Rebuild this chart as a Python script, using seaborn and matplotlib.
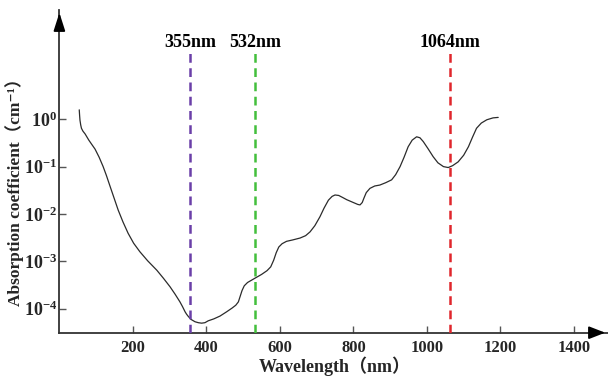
import numpy as np
import pandas as pd
import matplotlib
matplotlib.use("Agg")
import matplotlib.pyplot as plt
import seaborn as sns

# ---- data ----
wavelength_nm = [54, 55, 56, 58, 60, 64, 70, 80, 88, 97, 108, 119, 128, 138, 149,
                 160, 173, 187, 202, 219, 240, 265, 283, 301, 315, 328, 335, 342,
                 346, 351, 358, 369, 378, 387, 396, 405, 420, 437, 455, 470, 480,
                 487, 492, 497, 503, 512, 532, 550, 565, 575, 583, 590, 597, 606,
                 618, 635, 655, 670, 682, 695, 709, 720, 732, 742, 750, 760, 770,
                 782, 800, 812, 818, 824, 829, 835, 845, 858, 872, 888, 904, 915,
                 927, 938, 949, 960, 972, 981, 990, 1003, 1017, 1030, 1045, 1058,
                 1070, 1085, 1100, 1113, 1124, 1135, 1148, 1163, 1180, 1194]
log10_absorption = [0.20, 0.08, -0.02, -0.12, -0.19, -0.25, -0.31, -0.44, -0.53,
                    -0.63, -0.80, -1.00, -1.19, -1.42, -1.67, -1.92, -2.17, -2.41,
                    -2.62, -2.80, -2.99, -3.19, -3.36, -3.54, -3.70, -3.86, -3.96,
                    -4.07, -4.12, -4.17, -4.23, -4.28, -4.30, -4.31, -4.30, -4.26,
                    -4.22, -4.16, -4.07, -3.99, -3.93, -3.86, -3.74, -3.62, -3.52,
                    -3.45, -3.36, -3.28, -3.20, -3.12, -2.98, -2.82, -2.70, -2.63,
                    -2.58, -2.55, -2.51, -2.46, -2.38, -2.25, -2.06, -1.88, -1.71,
                    -1.63, -1.60, -1.61, -1.65, -1.70, -1.76, -1.80, -1.81, -1.76,
                    -1.66, -1.55, -1.46, -1.41, -1.39, -1.34, -1.28, -1.17, -1.00,
                    -0.80, -0.58, -0.44, -0.37, -0.39, -0.47, -0.62, -0.79, -0.92,
                    -1.00, -1.02, -0.98, -0.90, -0.76, -0.58, -0.38, -0.19, -0.08,
                    -0.01, 0.03, 0.04]
laser_lines = [355, 532, 1064]
laser_labels = ["355nm", "532nm", "1064nm"]
laser_colors = ["#6a3fa8", "#43bf3c", "#e0262c"]
x_ticks = [200, 400, 600, 800, 1000, 1200, 1400]
y_exponents = [0, -1, -2, -3, -4]

df = pd.DataFrame({"wavelength": wavelength_nm,
                   "absorption": np.power(10.0, log10_absorption)})

sns.set_style("ticks")
FAM = ["Liberation Serif", "Noto Sans CJK SC", "DejaVu Sans"]
plt.rcParams["font.family"] = FAM
plt.rcParams["font.weight"] = "bold"
plt.rcParams["mathtext.fontset"] = "custom"
plt.rcParams["mathtext.rm"] = "Liberation Serif:bold"
plt.rcParams["mathtext.bf"] = "Liberation Serif:bold"
plt.rcParams["mathtext.it"] = "Liberation Serif:bold:italic"

W, H = 608, 376
fig = plt.figure(figsize=(W / 100, H / 100), dpi=100)
x0, ybot, x1, ytop = 59.4, 332.7, 608.0, 10.0
ax = fig.add_axes([x0 / W, (H - ybot) / H, (x1 - x0) / W, (ybot - ytop) / H])

px_per_unit = 0.3675
ax.set_xlim(0, (x1 - x0) / px_per_unit)
dec = 47.3
ax.set_yscale("log")
lo = -4 - (ybot - 308.5) / dec
ax.set_ylim(10 ** lo, 10 ** (lo + (ybot - ytop) / dec))

sns.lineplot(data=df, x="wavelength", y="absorption", ax=ax, color="#2b2b2b",
             linewidth=0.9, estimator=None, sort=False)

ymin = ax.get_ylim()[0]
for wl, lab, col in zip(laser_lines, laser_labels, laser_colors):
    ax.vlines(wl, ymin, 10 ** 1.42, colors=col, linewidth=1.8,
              linestyles=(0, (3.5, 2.2)), zorder=3)
    ax.text(wl, 10 ** 1.63, lab, ha="center", va="center", fontsize=13,
            fontweight="bold", color="black")

ax.set_xticks(x_ticks)
ax.set_xticklabels([str(t) for t in x_ticks], fontsize=12, fontweight="bold")
ax.set_yticks([10.0 ** e for e in y_exponents])
ax.set_yticklabels([r"$\mathbf{10^{%d}}$" % e for e in y_exponents], fontsize=13)
ax.yaxis.set_minor_locator(matplotlib.ticker.NullLocator())
ax.tick_params(axis="both", direction="in", length=5, width=1.0, color="#555555")
ax.tick_params(axis="x", pad=5)
ax.tick_params(axis="y", pad=1.5)

ax.set_xlabel("Wavelength（nm）", fontsize=13, fontweight="bold", family=FAM)
ax.xaxis.set_label_coords((335 - x0) / (x1 - x0), (ybot - 366) / (ybot - ytop))
ax.xaxis.label.set_va("center")
ax.set_ylabel("Absorption coefficient（cm\u207b\u00b9）", fontsize=12.5,
              fontweight="bold", family=FAM)
ax.yaxis.set_label_coords((15 - x0) / (x1 - x0), (ybot - 188) / (ybot - ytop))
ax.yaxis.label.set_va("center")

for s in ["top", "right"]:
    ax.spines[s].set_visible(False)
for s in ["left", "bottom"]:
    ax.spines[s].set_color("#333333")
    ax.spines[s].set_linewidth(1.3)

ax.annotate("", xy=(1, 0), xycoords="axes fraction", xytext=(0.97, 0),
            arrowprops=dict(arrowstyle="-|>,head_length=0.9,head_width=0.35",
                            color="black", lw=1.3, mutation_scale=11),
            annotation_clip=False)
ax.annotate("", xy=(0, 1), xycoords="axes fraction", xytext=(0, 0.95),
            arrowprops=dict(arrowstyle="-|>,head_length=1.0,head_width=0.32",
                            color="black", lw=1.3, mutation_scale=11),
            annotation_clip=False)

fig.savefig("out.png", dpi=100)
